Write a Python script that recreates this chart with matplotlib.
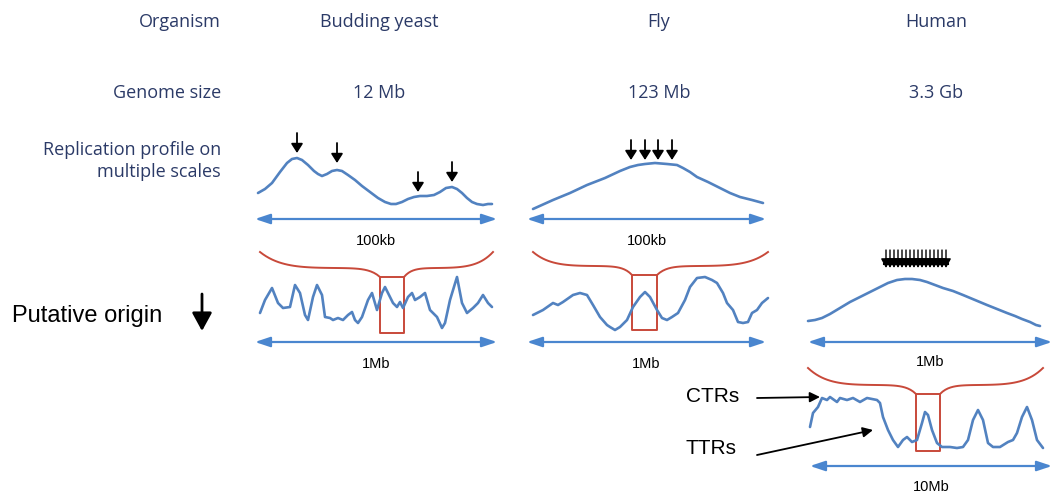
import matplotlib
matplotlib.use("Agg")
import matplotlib.pyplot as plt
import numpy as np

# tekst og farger
navy = "#2b3a67"
line_blue = "#5282c0"
arrow_blue = "#4a86cf"
red = "#c8493a"

row_labels = ["Organism", "Genome size", "Replication profile on\nmultiple scales"]
organisms = ["Budding yeast", "Fly", "Human"]
genome_sizes = ["12 Mb", "123 Mb", "3.3 Gb"]

# kurver lest av bildet (piksler, x mot høyre, y nedover)
yeast_top_x = [258, 265, 272, 280, 287, 292, 297, 302, 308, 314, 318, 322, 327, 332, 337, 342, 348, 355, 362, 370,
               378, 385, 391, 396, 402, 408, 414, 420, 427, 434, 440, 446, 452, 457, 462, 467, 472, 477, 483, 488, 492]
yeast_top_y = [193, 189, 183, 172, 163, 159, 158, 160, 165, 171, 174, 176, 174, 171, 170, 171, 175, 180, 186, 192,
               198, 202, 204, 204, 202, 199, 197, 196, 196, 195, 192, 188, 187, 189, 193, 198, 202, 204, 205, 204, 204]
yeast_top_origins = [297, 337, 418, 452]
yeast_top_origin_y = [153, 163, 192, 182]

fly_top_x = [533, 553, 570, 587, 605, 620, 630, 638, 645, 655, 667, 677, 683, 690, 697, 708, 720, 730, 740, 752, 763]
fly_top_y = [209, 200, 193, 185, 178, 171, 167, 165, 164, 163, 164, 165, 168, 172, 177, 182, 188, 193, 197, 200, 203]
fly_top_origins = [631, 645, 658, 672]

yeast_mid_x = [260, 265, 272, 278, 283, 290, 295, 300, 305, 308, 313, 317, 322, 325, 330, 333, 338, 343, 348, 352,
               355, 358, 362, 368, 372, 377, 382, 385, 388, 393, 397, 400, 403, 408, 412, 415, 420, 425, 430, 437,
               442, 445, 450, 457, 462, 467, 473, 478, 483, 488, 492]
yeast_mid_y = [313, 300, 288, 303, 308, 307, 285, 293, 315, 320, 297, 285, 295, 317, 318, 320, 318, 320, 315, 312,
               320, 323, 317, 300, 293, 310, 293, 287, 293, 303, 307, 302, 308, 297, 293, 300, 297, 293, 310, 317,
               328, 323, 300, 277, 303, 313, 308, 303, 295, 303, 307]

fly_mid_x = [533, 543, 553, 558, 563, 573, 580, 587, 593, 600, 607, 610, 615, 620, 627, 633, 640, 645, 650, 657,
             662, 667, 672, 678, 685, 690, 697, 705, 712, 717, 723, 727, 733, 738, 743, 748, 752, 757, 762, 768]
fly_mid_y = [315, 310, 303, 305, 302, 295, 293, 295, 305, 317, 325, 327, 330, 327, 320, 307, 297, 292, 297, 310,
             318, 320, 317, 313, 300, 287, 278, 277, 280, 283, 293, 303, 310, 322, 323, 322, 313, 310, 303, 298]

human_mid_x = [808, 815, 822, 830, 840, 850, 860, 870, 880, 888, 897, 905, 912, 920, 927, 935, 943, 953, 963, 975,
               987, 997, 1007, 1015, 1022, 1030, 1036, 1040]
human_mid_y = [321, 320, 318, 314, 308, 302, 297, 292, 287, 283, 280, 279, 279, 280, 282, 285, 288, 291, 295, 300,
               305, 309, 313, 316, 319, 322, 325, 326]

human_bot_x = [810, 813, 818, 822, 827, 830, 837, 840, 847, 853, 860, 867, 877, 880, 883, 888, 893, 898, 903, 907,
               912, 917, 922, 925, 928, 932, 937, 942, 950, 957, 963, 968, 973, 978, 983, 988, 993, 1000, 1008, 1013,
               1017, 1022, 1027, 1032, 1037, 1043]
human_bot_y = [427, 413, 407, 398, 400, 397, 402, 398, 400, 398, 402, 398, 400, 403, 417, 430, 440, 447, 440, 437,
               442, 440, 423, 412, 415, 430, 443, 447, 447, 448, 447, 440, 420, 410, 420, 443, 447, 447, 442, 440,
               433, 417, 407, 420, 440, 448]

fig = plt.figure(figsize=(10.52, 4.93), dpi=100)
ax = fig.add_axes([0, 0, 1, 1])
ax.set_xlim(0, 1052)
ax.set_ylim(493, 0)
ax.axis("off")

nav_font = dict(family="Open Sans", fontsize=13, color=navy)
sans = dict(family="Liberation Sans", color="black")
curve = dict(color=line_blue, lw=1.9, solid_joinstyle="round", solid_capstyle="round")

# overskrifter
ax.text(221, 22, row_labels[0], ha="right", va="center", **nav_font)
ax.text(221, 93, row_labels[1], ha="right", va="center", **nav_font)
ax.text(221, 161, row_labels[2], ha="right", va="center", linespacing=1.3, **nav_font)
for x, org, size in zip([379, 659, 936], organisms, genome_sizes):
    ax.text(x, 22, org, ha="center", va="center", **nav_font)
    ax.text(x, 93, size, ha="center", va="center", **nav_font)


def down_arrow(x, y0, y1, lw=1.3, head=0.35, length=0.55):
    ax.annotate("", xy=(x, y1), xytext=(x, y0),
                arrowprops=dict(arrowstyle="-|>,head_width=%s,head_length=%s" % (head, length),
                                color="black", lw=lw, shrinkA=0, shrinkB=0))


def span(x0, x1, y, label=None, ly=None):
    ax.annotate("", xy=(x1, y), xytext=(x0, y),
                arrowprops=dict(arrowstyle="<|-|>,head_width=0.3,head_length=0.9",
                                color=arrow_blue, lw=1.6, shrinkA=0, shrinkB=0))
    if label:
        ax.text((x0 + x1) / 2, ly, label, ha="center", va="center", fontsize=10.5, **sans)


def brace(x0, x1, top, mid, bx0, bx1, by1):
    # rød klamme som peker ned i en boks
    t = np.linspace(0, 1, 40)
    lx = x0 + (bx0 - x0) * t
    ly = top + (mid - top) * (1 - (1 - t) ** 6) + 9 * t ** 12
    ax.plot(lx, ly, color=red, lw=1.4)
    rx = x1 - (x1 - bx1) * t
    ax.plot(rx, ly, color=red, lw=1.4)
    ax.plot([bx0, bx0, bx1, bx1, bx0], [mid + 9, by1, by1, mid + 9, mid + 9], color=red, lw=1.4)


# gjær, øverst
ax.plot(yeast_top_x, yeast_top_y, **curve)
for x, yb in zip(yeast_top_origins, yeast_top_origin_y):
    down_arrow(x, yb - 20, yb)
span(255, 497, 219, "100kb", 241)

# flue, øverst
ax.plot(fly_top_x, fly_top_y, **curve)
for x in fly_top_origins:
    down_arrow(x, 140, 160)
span(527, 766, 219, "100kb", 241)

# midtre rad
brace(260, 493, 252, 268, 380, 404, 333)
ax.plot(yeast_mid_x, yeast_mid_y, **curve)
span(255, 497, 342, "1Mb", 364)

brace(533, 768, 252, 266, 632, 657, 330)
ax.plot(fly_mid_x, fly_mid_y, **curve)
span(527, 766, 342, "1Mb", 364)

ax.plot(human_mid_x, human_mid_y, **curve)
human_origins = [886 + 4 * i for i in range(16)]
for x in human_origins:
    down_arrow(x, 250, 268, lw=1.0, head=0.3)
ax.plot([884, 948], [264, 264], color="black", lw=1.5)
span(808, 1052, 342, "1Mb", 362)

# menneske, nederst
brace(808, 1043, 368, 385, 916, 940, 451)
ax.plot(human_bot_x, human_bot_y, **curve)
span(810, 1052, 466, "10Mb", 487)

# putative origin
ax.text(12, 316, "Putative origin", ha="left", va="center", fontsize=17, **sans)
down_arrow(202, 294, 331, lw=2.0, head=0.6, length=1.1)

ax.text(686, 397, "CTRs", ha="left", va="center", fontsize=15, **sans)
ax.annotate("", xy=(820, 397), xytext=(757, 398),
            arrowprops=dict(arrowstyle="-|>,head_width=0.3,head_length=0.6", color="black", lw=1.3,
                            shrinkA=0, shrinkB=0))
ax.text(686, 448, "TTRs", ha="left", va="center", fontsize=15, **sans)
ax.annotate("", xy=(873, 430), xytext=(757, 455),
            arrowprops=dict(arrowstyle="-|>,head_width=0.3,head_length=0.6", color="black", lw=1.3,
                            shrinkA=0, shrinkB=0))

fig.savefig("out.png", dpi=100)
